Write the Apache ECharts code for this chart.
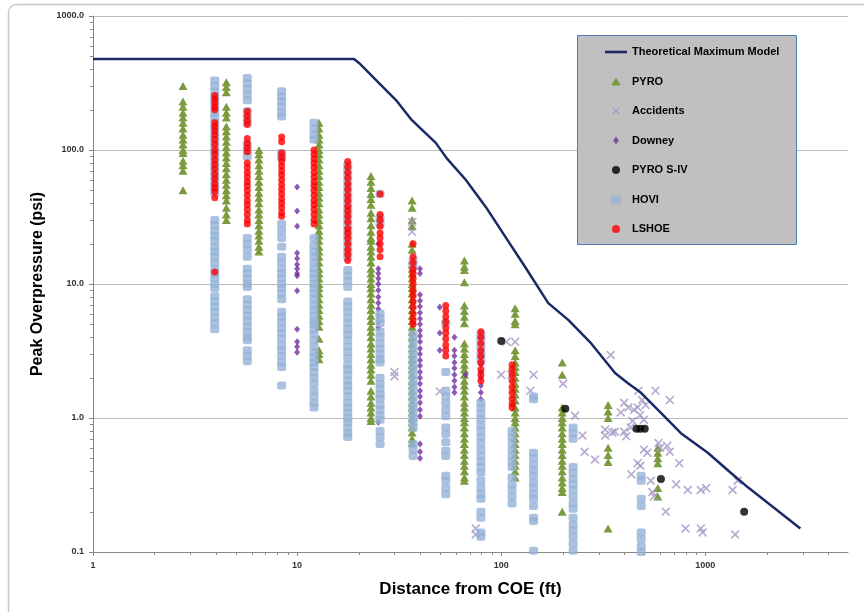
<!DOCTYPE html>
<html><head><meta charset="utf-8">
<script src="https://cdn.jsdelivr.net/npm/echarts@6/dist/echarts.min.js"></script>
<style>html,body{margin:0;padding:0;background:#fff}#c{width:864px;height:612px}</style>
</head><body><div id="c"></div>
<script>
// ---------- DATA ----------
const theoX = [1, 19, 20.1, 25.2, 30.5, 36.5, 47.8, 54, 67, 84, 105, 131, 170, 213, 276, 361, 418, 484, 606, 759, 1028, 1331, 1611, 2920];
const theoY = [477, 477, 446, 316, 236, 167, 113, 87, 60, 37.6, 22.4, 13.4, 7.2, 5.4, 3.6, 2.17, 1.82, 1.54, 1.09, 0.77, 0.55, 0.39, 0.305, 0.15];

const pyroCols = [
  [2.76, [300, 230, 210, 190, 175, 160, 145, 130, 120, 110, 100, 95, 83, 77, 70, 50]],
  [4.5, [320, 295, 270, 210, 190, 175, 150, 138, 126, 115, 105, 96, 88, 80, 73, 66, 60, 55, 50, 46, 42, 37, 33, 30]],
  [6.5, [100, 93, 85, 77, 70, 64, 58, 53, 48, 44, 40, 36, 33, 30, 27.5, 25, 23, 21, 19, 17.5]],
  [12.8, [160, 145, 130, 120, 110, 100, 93, 85, 77, 70, 64, 58, 53, 48, 44, 40, 36, 33, 30, 27.5, 25, 23, 21, 19, 17.5, 16, 14.5, 13, 12, 11, 10, 9.3, 8.5, 7.7, 7.0, 6.4, 5.8, 5.3, 4.8, 3.9, 3.2, 3.0, 2.75]],
  [23, [64, 58, 52, 47, 43, 39, 34, 31, 27.5, 24.5, 22, 21, 19, 17.5, 16, 14.5, 13, 12, 11, 10, 9.3, 8.5, 7.7, 7.0, 6.4, 5.8, 5.3, 4.8, 4.4, 4.0, 3.6, 3.3, 3.0, 2.75, 2.5, 2.3, 2.1, 1.9, 1.6, 1.45, 1.3, 1.2, 1.1, 1.0, 0.95]],
  [36.6, [42, 37, 30, 27, 20, 18, 15, 14, 13, 12, 11, 10, 9.3, 8.5, 7.7, 7.0, 6.4, 5.8, 5.3, 4.8, 4.4, 4.0, 3.6, 3.3, 3.0, 2.75, 2.5, 2.3, 2.1, 1.9, 1.75, 1.6, 1.45, 1.3, 1.2, 1.1, 1.0, 0.93, 0.85, 0.78, 0.7, 0.65]],
  [66, [15, 13.5, 12.7, 10.3, 6.9, 6.3, 5.7, 5.1, 3.6, 3.3, 3.0, 2.75, 2.5, 2.3, 2.1, 1.9, 1.75, 1.6, 1.45, 1.3, 1.2, 1.1, 1.0, 0.93, 0.85, 0.77, 0.7, 0.64, 0.58, 0.53, 0.48, 0.44, 0.4, 0.36, 0.34]],
  [117, [6.6, 6.0, 5.3, 5.0, 3.2, 2.9, 2.6, 2.4, 2.2, 2.0, 1.8, 1.65, 1.5, 1.35, 1.2, 1.1, 1.0, 0.93, 0.85, 0.77, 0.7, 0.64, 0.58, 0.53, 0.48, 0.44, 0.4, 0.36]],
  [199, [2.6, 2.1, 1.2, 1.1, 1.0, 0.93, 0.85, 0.77, 0.7, 0.64, 0.58, 0.53, 0.48, 0.44, 0.4, 0.36, 0.33, 0.3, 0.28, 0.2]],
  [334, [1.25, 1.12, 1.0, 0.6, 0.53, 0.47, 0.15]],
  [585, [0.6, 0.55, 0.5, 0.46, 0.3, 0.26]]
];

const accidentsData = [
  [30, 2.2], [30, 2.05], [36.6, 29], [36.6, 24.5], [50, 1.58], [75, 0.15], [75, 0.135],
  [106, 3.7], [117, 3.7], [100, 2.1], [112, 2.1], [144, 2.1], [139, 1.6], [201, 1.8],
  [230, 1.04], [250, 0.74], [256, 0.56], [288, 0.49], [323, 0.82], [323, 0.74], [344, 2.95],
  [350, 0.78], [360, 0.79], [385, 1.1], [400, 1.3], [400, 0.79], [410, 0.73], [420, 1.2],
  [440, 0.95], [430, 0.85], [448, 1.15], [470, 1.6], [490, 1.36], [466, 1.2], [480, 1.05],
  [500, 0.97], [510, 1.25], [434, 0.38], [466, 0.46], [480, 0.44], [500, 0.58], [520, 0.55],
  [540, 0.34], [550, 0.28], [560, 0.26], [570, 1.6], [590, 0.65], [600, 0.6], [640, 0.2],
  [650, 0.62], [670, 0.56], [670, 1.36], [720, 0.32], [745, 0.46], [800, 0.15], [820, 0.29],
  [950, 0.29], [1010, 0.3], [950, 0.15], [970, 0.14], [1360, 0.29], [1400, 0.135], [1440, 0.34]
];

const downeyCols = [
  [10, [53, 35, 27, 17, 15.5, 14, 13, 12, 11.5, 8.9, 4.6, 3.7, 3.4, 3.1]],
  [25, [20, 13, 12, 11, 10, 9, 8, 7.2, 6.5, 5.8, 5.2, 4.7, 0.93]],
  [40, [13, 12, 8.3, 7.5, 6.8, 6.1, 5.5, 5, 4.5, 4.1, 3.7, 3.3, 3.0, 2.7, 2.45, 2.2, 2.0, 1.8, 1.6, 1.45, 1.3, 1.15, 1.03, 0.64, 0.56, 0.5]],
  [50, [6.7, 4.3, 3.2]],
  [59, [4.0, 3.2, 2.9, 2.6, 2.35, 2.1, 1.9, 1.7, 1.55]],
  [67, [2.1]],
  [79.5, [2.8, 2.5, 2.2, 2.0, 1.75, 1.55, 1.38]]
];

const pyroS4Data = [[100, 3.75], [206, 1.17], [460, 0.83], [480, 0.83], [505, 0.83], [606, 0.35], [1550, 0.2]];

const hoviCols = [
  [3.95, [330, 300, 275, 250, 230, 210, 190, 175, 160, 145, 130, 120, 110, 100, 93, 85, 77, 70, 64, 58, 53, 48, 30, 27.5, 25, 23, 21, 19, 17.5, 16, 14.5, 13, 12, 11, 10, 9.3, 8.1, 7.4, 6.8, 6.2, 5.6, 5.1, 4.6]],
  [5.7, [345, 315, 285, 260, 235, 195, 175, 160, 110, 100, 90, 22, 20, 18, 16, 13, 12, 11, 10, 9.5, 7.7, 7.0, 6.4, 5.8, 5.3, 4.8, 4.4, 4.0, 3.8, 3.2, 2.9, 2.65]],
  [8.4, [275, 250, 230, 210, 190, 178, 95, 88, 28, 25, 22, 19, 16, 14.5, 13, 12, 11, 10, 9.3, 8.5, 7.7, 6.2, 5.7, 5.2, 4.7, 4.3, 3.9, 3.5, 3.2, 2.9, 2.6, 2.4, 1.75]],
  [12.1, [160, 145, 130, 120, 22, 19.5, 17.5, 16, 14.5, 13, 12, 11, 10, 9.3, 8.5, 7.7, 7.0, 6.4, 5.8, 5.3, 5.0, 4.6, 4.2, 3.8, 3.4, 3.1, 2.8, 2.6, 2.4, 2.2, 2.0, 1.8, 1.6, 1.45, 1.3, 1.2]],
  [17.7, [77, 70, 64, 58, 53, 48, 44, 40, 36, 33, 30, 27.5, 25, 23, 21, 19, 17.5, 16, 12.7, 11.5, 10.5, 9.5, 7.4, 6.8, 6.2, 5.6, 5.1, 4.6, 4.2, 3.8, 3.4, 3.1, 2.8, 2.5, 2.3, 2.1, 1.9, 1.75, 1.6, 1.45, 1.3, 1.2, 1.1, 1.0, 0.93, 0.85, 0.77, 0.72]],
  [25.5, [47, 31, 28, 6.0, 5.5, 5.1, 4.4, 4.0, 3.6, 3.3, 3.0, 2.75, 2.6, 2.0, 1.8, 1.65, 1.5, 1.4, 1.25, 1.15, 1.05, 0.97, 0.8, 0.72, 0.64]],
  [37, [15, 13.5, 4.2, 3.8, 3.4, 3.1, 2.8, 2.5, 2.3, 2.1, 1.9, 1.75, 1.6, 1.45, 1.3, 1.2, 1.1, 1.0, 0.93, 0.85, 0.64, 0.58, 0.52]],
  [53.5, [5.1, 2.2, 1.6, 1.45, 1.3, 1.15, 1.03, 0.85, 0.76, 0.66, 0.57, 0.52, 0.37, 0.34, 0.3, 0.27]],
  [79.5, [4.2, 3.8, 3.4, 3.0, 2.7, 1.3, 1.2, 1.08, 0.98, 0.88, 0.8, 0.72, 0.65, 0.58, 0.52, 0.47, 0.43, 0.39, 0.34, 0.3, 0.27, 0.25, 0.2, 0.18, 0.14, 0.13]],
  [113, [0.8, 0.72, 0.65, 0.58, 0.52, 0.47, 0.43, 0.36, 0.32, 0.29, 0.26, 0.23]],
  [144, [1.45, 1.38, 0.55, 0.5, 0.45, 0.41, 0.37, 0.33, 0.3, 0.27, 0.25, 0.22, 0.18, 0.17, 0.102]],
  [225, [0.85, 0.77, 0.7, 0.43, 0.39, 0.35, 0.32, 0.29, 0.26, 0.23, 0.21, 0.18, 0.16, 0.145, 0.13, 0.115, 0.102]],
  [485, [0.37, 0.34, 0.25, 0.22, 0.14, 0.125, 0.11, 0.1]]
];

const lshoeCols = [
  [3.95, [255, 240, 225, 210, 200, 160, 150, 140, 130, 120, 110, 100, 93, 85, 78, 72, 66, 61, 56, 52, 49, 44, 12.3]],
  [5.7, [195, 180, 165, 155, 122, 112, 104, 97, 80, 74, 68, 63, 58, 54, 50, 46, 42, 39, 36, 33, 30, 28]],
  [8.4, [125, 115, 95, 88, 82, 76, 70, 65, 60, 55, 51, 47, 43, 40, 37, 34, 32]],
  [12.1, [100, 93, 86, 80, 74, 68, 63, 58, 54, 50, 46, 42, 39, 36, 33, 30, 28]],
  [17.7, [82, 75, 68, 62, 56, 51, 46, 42, 38, 35, 32, 29, 26, 24, 22, 20, 18, 16.5, 15]],
  [25.5, [47, 33, 30, 27, 24, 22, 20, 18, 16]],
  [37, [20, 16, 14.5, 13, 12, 11, 10, 9, 8.2, 7.4, 6.7, 6, 5.4, 5.0]],
  [53.5, [6.9, 6.3, 5.7, 5.2, 4.7, 4.3, 3.9, 3.5, 3.2, 2.9]],
  [79.5, [4.4, 4.0, 3.6, 3.2, 2.9, 2.6, 2.3, 2.1, 1.9]],
  [113, [2.5, 2.3, 2.1, 1.9, 1.7, 1.55, 1.4, 1.28, 1.2]]
];

const xMinorTicks = [2, 3, 4, 5, 6, 7, 8, 9, 20, 30, 40, 50, 60, 70, 80, 90, 200, 300, 400, 500, 600, 700, 800, 900, 2000, 3000, 4000];
const yMinorTicks = [0.2, 0.3, 0.4, 0.5, 0.6, 0.7, 0.8, 0.9, 2, 3, 4, 5, 6, 7, 8, 9, 20, 30, 40, 50, 60, 70, 80, 90, 200, 300, 400, 500, 600, 700, 800, 900];

const seriesNames = ['Theoretical Maximum Model', 'PYRO', 'Accidents', 'Downey', 'PYRO S-IV', 'HOVI', 'LSHOE'];

// ---------- BUILD ----------
const flat = cols => cols.flatMap(([x, ys]) => ys.map(y => [x, y]));
const FONT = 'Liberation Sans';
const AX = '#868686';
const xShape = 'path://M0,1.3L1.3,0L5,3.7L8.7,0L10,1.3L6.3,5L10,8.7L8.7,10L5,6.3L1.3,10L0,8.7L3.7,5Z';
const icons = {
  'Theoretical Maximum Model': 'path://M0,0H22V2.6H0Z',
  'PYRO': 'path://M4.5,0L9,7.5L0,7.5Z',
  'Accidents': xShape,
  'Downey': 'path://M2.5,0L5,3.5L2.5,7L0,3.5Z',
  'PYRO S-IV': 'circle',
  'HOVI': 'path://M0,0H9V7.5H0Z',
  'LSHOE': 'circle'
};

const chart = echarts.init(document.getElementById('c'), null, {renderer: 'canvas'});
chart.setOption({
  animation: false,
  backgroundColor: '#ffffff',
  grid: {left: 93, right: 16, top: 16, bottom: 60, containLabel: false},
  xAxis: {
    type: 'log', logBase: 10, min: 1, max: 5000,
    name: 'Distance from COE (ft)', nameLocation: 'middle', nameGap: 29,
    nameTextStyle: {fontFamily: FONT, fontSize: 17, fontWeight: 'bold', color: '#000'},
    axisLine: {lineStyle: {color: AX, width: 1}},
    axisTick: {show: true, length: 4, lineStyle: {color: AX}},
    axisLabel: {fontFamily: FONT, fontSize: 9, fontWeight: 'bold', color: '#333', margin: 9, showMaxLabel: false,
      formatter: v => { const r = Math.round(v); return r > 1000 ? '' : String(r); }},
    splitLine: {show: false}
  },
  yAxis: {
    type: 'log', logBase: 10, min: 0.1, max: 1000,
    name: 'Peak Overpressure (psi)', nameLocation: 'middle', nameGap: 44,
    nameTextStyle: {fontFamily: FONT, fontSize: 16, fontWeight: 'bold', color: '#000'},
    axisLine: {show: true, lineStyle: {color: AX, width: 1}},
    axisTick: {show: true, length: 4, lineStyle: {color: AX}},
    axisLabel: {fontFamily: FONT, fontSize: 9, fontWeight: 'bold', color: '#333', margin: 9,
      formatter: v => Number(v).toFixed(1)},
    splitLine: {show: true, lineStyle: {color: '#bcbcbc', width: 1}}
  },
  legend: {
    data: seriesNames.map(n => ({name: n, icon: icons[n]})),
    orient: 'vertical', left: 605, top: 45, padding: 0,
    itemWidth: 22, itemHeight: 8, itemGap: 15.5, symbolKeepAspect: true,
    textStyle: {fontFamily: FONT, fontSize: 11, fontWeight: 'bold', color: '#000', lineHeight: 14},
    selectedMode: false, z: 10
  },
  graphic: [
    {type: 'rect', z: 5, shape: {x: 577.5, y: 35.5, width: 219, height: 209}, style: {fill: '#c0c0c0', stroke: '#4a7ebb', lineWidth: 1}},
    {type: 'rect', z: -1, shape: {x: 8.5, y: 4.5, width: 900, height: 700, r: 8}, style: {fill: 'none', stroke: '#c8c8c8', lineWidth: 1.5}}
  ],
  series: [
    {name: seriesNames[0], type: 'line', data: theoX.map((x, i) => [x, theoY[i]]), symbol: 'none',
      lineStyle: {color: '#1b2a66', width: 2.5}, itemStyle: {color: '#1b2a66'}, z: 3},
    {name: seriesNames[1], type: 'scatter', data: flat(pyroCols), symbol: 'triangle', symbolSize: [9, 8],
      itemStyle: {color: '#7b9b3f', opacity: 1}},
    {name: seriesNames[2], type: 'scatter', data: accidentsData, symbol: xShape, symbolSize: 9,
      itemStyle: {color: '#a596c4'}},
    {name: seriesNames[3], type: 'scatter', data: flat(downeyCols), symbol: 'diamond', symbolSize: [6, 7],
      itemStyle: {color: '#7030a0'}},
    {name: seriesNames[4], type: 'scatter', data: pyroS4Data, symbol: 'circle', symbolSize: 8,
      itemStyle: {color: '#000000'}},
    {name: seriesNames[5], type: 'scatter', data: flat(hoviCols), symbol: 'roundRect', symbolSize: [9, 8],
      itemStyle: {color: '#95b3d7'}},
    {name: seriesNames[6], type: 'scatter', data: flat(lshoeCols), symbol: 'circle', symbolSize: 7,
      itemStyle: {color: '#ff0000'}},
    {type: 'custom', silent: true, clip: false, z: 1, data: xMinorTicks.map(v => [v, 0.1]),
      renderItem: (p, api) => { const c = api.coord([api.value(0), api.value(1)]); const x = Math.round(c[0]) + 0.5;
        return {type: 'line', shape: {x1: x, y1: c[1], x2: x, y2: c[1] + 3}, style: {stroke: AX, lineWidth: 1}}; }},
    {type: 'custom', silent: true, clip: false, z: 1, data: yMinorTicks.map(v => [1, v]),
      renderItem: (p, api) => { const c = api.coord([api.value(0), api.value(1)]); const y = Math.round(c[1]) + 0.5;
        return {type: 'line', shape: {x1: c[0] - 3, y1: y, x2: c[0], y2: y}, style: {stroke: AX, lineWidth: 1}}; }}
  ]
});
</script></body></html>
